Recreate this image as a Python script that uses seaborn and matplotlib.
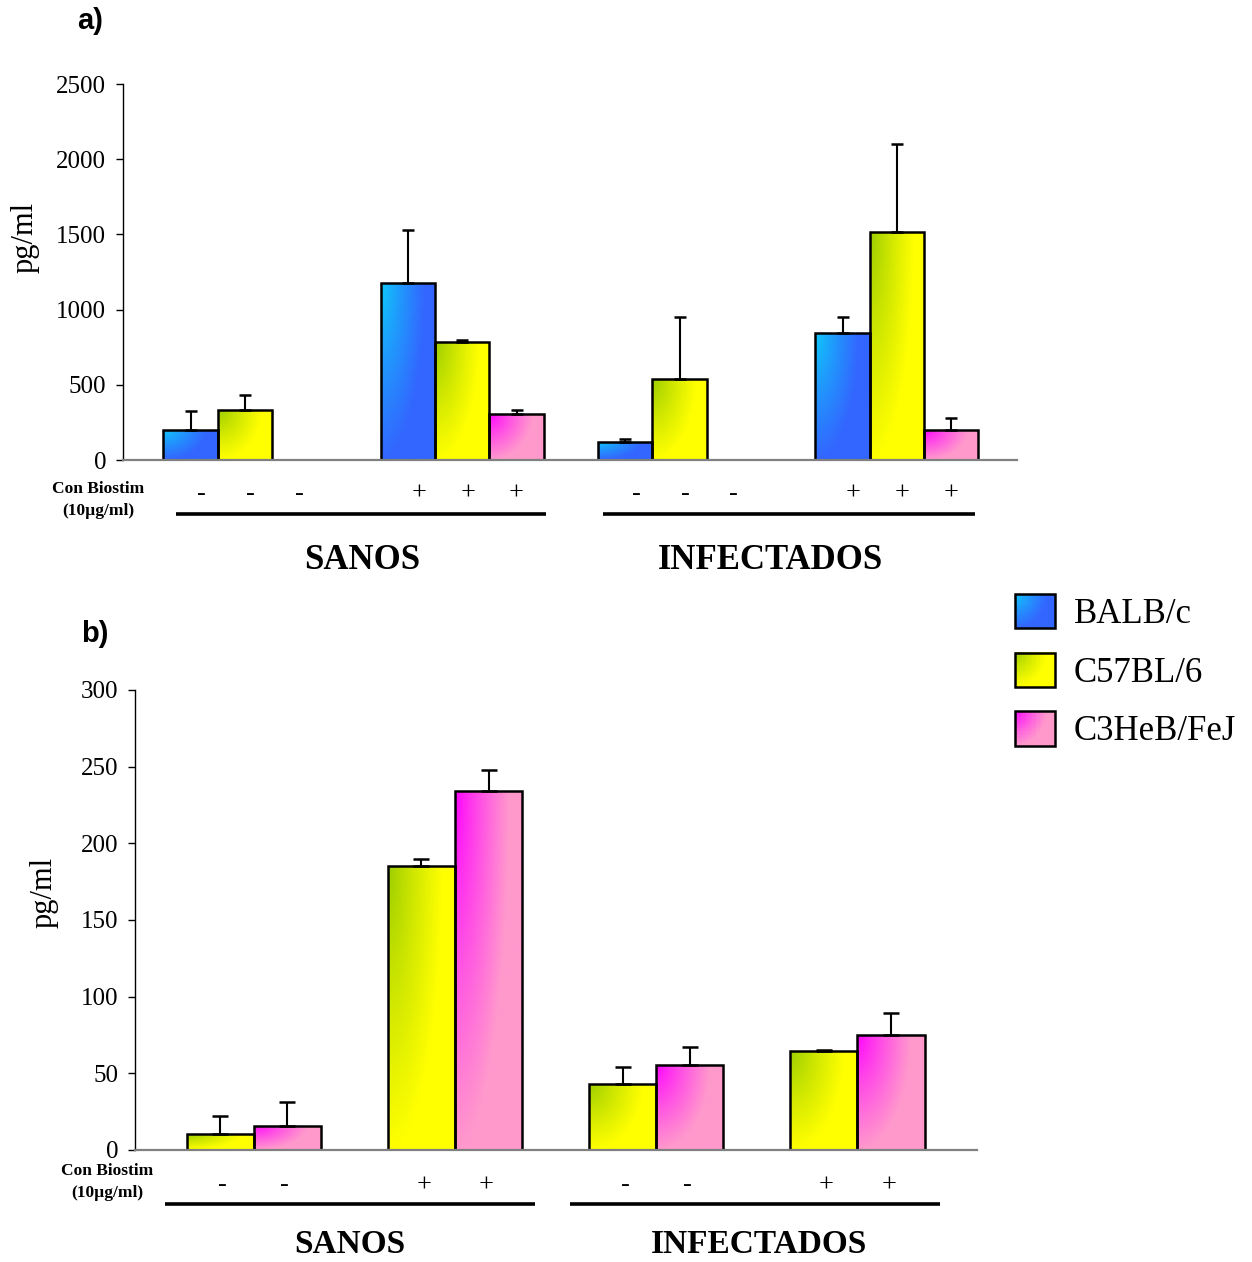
import numpy as np
import pandas as pd
import matplotlib
matplotlib.use("Agg")
import matplotlib.pyplot as plt
import seaborn as sns
import matplotlib.transforms as mtransforms
from matplotlib.patches import Rectangle, Patch
from matplotlib.legend_handler import HandlerBase

# ---------------- data ----------------
groups = ["SANOS -", "SANOS +", "INFECTADOS -", "INFECTADOS +"]
strains = ["BALB/c", "C57BL/6", "C3HeB/FeJ"]

balb_a = [200, 1180, 122, 843]
balb_a_err = [125, 352, 15, 105]
c57_a = [335, 782, 536, 1518]
c57_a_err = [94, 17, 413, 585]
c3h_a = [np.nan, 305, np.nan, 197]
c3h_a_err = [np.nan, 30, np.nan, 80]

c57_b = [10.4, 185.5, 43.3, 64.6]
c57_b_err = [12.0, 4.1, 10.7, 0.3]
c3h_b = [15.9, 234.2, 55.3, 75.1]
c3h_b_err = [15.7, 13.5, 12.0, 14.4]

signs_a = ["-", "-", "-", "+", "+", "+", "-", "-", "-", "+", "+", "+"]
signs_b = ["-", "-", "+", "+", "-", "-", "+", "+"]
treat_labels = ["SANOS", "INFECTADOS"]
yticks_a = [0, 500, 1000, 1500, 2000, 2500]
yticks_b = [0, 50, 100, 150, 200, 250, 300]

# ---------------- style ----------------
sns.set_style("ticks")
plt.rcParams["font.family"] = ["Liberation Serif", "DejaVu Serif"]
for key in ["text.color", "axes.labelcolor", "xtick.color", "ytick.color",
            "axes.edgecolor"]:
    plt.rcParams[key] = "black"

grad = {
    "BALB/c": (np.array([0.05, 0.80, 0.98]), np.array([0.20, 0.40, 1.00])),
    "C57BL/6": (np.array([0.60, 0.80, 0.00]), np.array([1.00, 1.00, 0.00])),
    "C3HeB/FeJ": (np.array([1.00, 0.00, 1.00]), np.array([1.00, 0.60, 0.80])),
}
mid = {k: tuple((a + b) / 2) for k, (a, b) in grad.items()}


def make_df(series):
    rows = []
    for strain, vals in series.items():
        for g, v in zip(groups, vals):
            if np.isfinite(v):
                rows.append({"grupo": g, "cepa": strain, "pg/ml": v})
    return pd.DataFrame(rows)


def grad_t(U, V):
    return np.clip(np.sqrt((U / 0.8) ** 2 + V ** 2), 0, 1) ** 0.85


def grad_fill(ax, patch, c0, c1):
    x0, y0 = patch.get_x(), patch.get_y()
    w, h = patch.get_width(), patch.get_height()
    if not np.isfinite(h) or h <= 0:
        return
    p0 = ax.transData.transform((x0, y0))
    p1 = ax.transData.transform((x0 + w, y0 + h))
    W = abs(p1[0] - p0[0])
    H = abs(p1[1] - p0[1])
    nx = max(int(W), 2)
    ny = max(int(H), 2)
    u = (np.arange(nx) + 0.5) / nx
    v = (np.arange(ny) + 0.5) / ny
    U, V = np.meshgrid(u, v)
    t = grad_t(U, V)
    img = c0 + (c1 - c0) * t[..., None]
    im = ax.imshow(img, extent=[x0, x0 + w, y0, y0 + h], origin="upper",
                   aspect="auto", zorder=patch.get_zorder() - 0.05,
                   interpolation="bilinear")
    im.set_clip_path(patch)
    patch.set_facecolor("none")


def draw_panel(ax, series, errs, width, xlim, ylim, yticks, capsize):
    df = make_df(series)
    order_h = list(series.keys())
    sns.barplot(data=df, x="grupo", y="pg/ml", hue="cepa", order=groups,
                hue_order=order_h, palette=mid, width=width, dodge=True,
                errorbar=None, edgecolor="black", linewidth=1.8, legend=False,
                ax=ax)
    ax.set_xlim(*xlim)
    ax.set_ylim(*ylim)
    for cont, strain in zip(ax.containers, order_h):
        xs, hs, es = [], [], []
        for p in cont.patches:
            h = p.get_height()
            if not np.isfinite(h) or h == 0:
                continue
            xc = p.get_x() + p.get_width() / 2
            gi = int(round(xc))
            xs.append(xc)
            hs.append(h)
            es.append(errs[strain][gi])
            grad_fill(ax, p, *grad[strain])
        es = np.array(es, dtype=float)
        ax.errorbar(xs, hs, yerr=[np.zeros_like(es), es], fmt="none",
                    ecolor="black", elinewidth=1.5, capsize=capsize,
                    capthick=1.8, zorder=3)
    ax.set_xlim(*xlim)
    ax.set_ylim(*ylim)
    ax.set_yticks(yticks)
    ax.set_xticks([])
    ax.set_xlabel("")
    ax.set_ylabel("pg/ml", fontsize=22)
    sns.despine(ax=ax)
    ax.spines["bottom"].set_color("#808080")
    ax.spines["bottom"].set_linewidth(1.6)
    ax.spines["left"].set_color("black")
    ax.spines["left"].set_linewidth(1.0)
    ax.tick_params(axis="y", direction="out", length=5, width=1.0,
                   labelsize=18, pad=7, colors="black")


fig = plt.figure(figsize=(12.52, 12.62), dpi=100)

# ---------------- panel a ----------------
axa = fig.add_axes([123 / 1252, 1 - 460 / 1262, 894 / 1252, 376 / 1262])
draw_panel(axa,
           {"BALB/c": balb_a, "C57BL/6": c57_a, "C3HeB/FeJ": c3h_a},
           {"BALB/c": balb_a_err, "C57BL/6": c57_a_err, "C3HeB/FeJ": c3h_a_err},
           0.75, (-0.561, 3.553), (0, 2500), yticks_a, 4.5)
axa.yaxis.set_label_coords(-0.093, 0.593)

tra = mtransforms.blended_transform_factory(axa.transData, axa.transAxes)
k = 0
for g in range(4):
    for off in (-0.225, 0.0, 0.225):
        axa.text(g + 0.025 + off, -0.090, signs_a[k], transform=tra,
                 ha="center", va="center", fontsize=19)
        k += 1
for (x0, x1), lab, xc in zip([(-0.318, 1.385), (1.648, 3.359)], treat_labels,
                             [0.538, 2.42]):
    axa.plot([x0, x1], [-0.1436, -0.1436], transform=tra, color="black",
             lw=2.6, clip_on=False, solid_capstyle="butt")
    axa.text(xc, -0.268, lab, transform=tra, ha="center", va="center",
             fontsize=25, fontweight="bold")

fig.text(98 / 1252, 1 - 489 / 1262, "Con Biostim", ha="center", va="center",
         fontsize=12.5, fontweight="bold")
fig.text(98 / 1252, 1 - 511 / 1262, "(10µg/ml)", ha="center", va="center",
         fontsize=12.5, fontweight="bold")
fig.text(77 / 1252, 1 - 21 / 1262, "a)", ha="left", va="center", fontsize=21,
         fontweight="bold", family=["Liberation Sans", "DejaVu Sans"])

# ---------------- panel b ----------------
axb = fig.add_axes([135 / 1252, 1 - 1150 / 1262, 842 / 1252, 460 / 1262])
draw_panel(axb,
           {"C57BL/6": c57_b, "C3HeB/FeJ": c3h_b},
           {"C57BL/6": c57_b_err, "C3HeB/FeJ": c3h_b_err},
           0.667, (-0.590, 3.594), (0, 300), yticks_b, 5.8)
axb.yaxis.set_label_coords(-0.091, 0.559)

trb = mtransforms.blended_transform_factory(axb.transData, axb.transAxes)
k = 0
for g in range(4):
    for off in (-0.155, 0.155):
        axb.text(g + off, -0.0765, signs_b[k], transform=trb,
                 ha="center", va="center", fontsize=19)
        k += 1
for (x0, x1), lab, xc in zip([(-0.443, 1.397), (1.571, 3.411)], treat_labels,
                             [0.477, 2.511]):
    axb.plot([x0, x1], [-0.1174, -0.1174], transform=trb, color="black",
             lw=2.6, clip_on=False, solid_capstyle="butt")
    axb.text(xc, -0.2245, lab, transform=trb, ha="center", va="baseline",
             fontsize=24, fontweight="bold")

fig.text(107 / 1252, 1 - 1171 / 1262, "Con Biostim", ha="center", va="center",
         fontsize=12.5, fontweight="bold")
fig.text(107 / 1252, 1 - 1193 / 1262, "(10µg/ml)", ha="center", va="center",
         fontsize=12.5, fontweight="bold")
fig.text(81 / 1252, 1 - 634 / 1262, "b)", ha="left", va="center", fontsize=21,
         fontweight="bold", family=["Liberation Sans", "DejaVu Sans"])


# ---------------- legend ----------------
class GradHandler(HandlerBase):
    def __init__(self, c0, c1):
        super().__init__()
        self.c0, self.c1 = c0, c1

    def create_artists(self, legend, orig_handle, xdescent, ydescent, width,
                       height, fontsize, trans):
        arts = []
        n = 16
        for i in range(n):
            for j in range(n):
                u = (i + 0.5) / n
                v = (j + 0.5) / n
                t = float(grad_t(np.array(u), np.array(v)))
                col = self.c0 + (self.c1 - self.c0) * t
                r = Rectangle((-xdescent + i * width / n,
                               -ydescent + height - (j + 1) * height / n),
                              width / n * 1.05, height / n * 1.05,
                              facecolor=col, edgecolor="none", lw=0,
                              transform=trans, antialiased=False)
                arts.append(r)
        arts.append(Rectangle((-xdescent, -ydescent), width, height,
                              facecolor="none", edgecolor="black", lw=1.8,
                              transform=trans))
        return arts


handles = [Patch(label=s) for s in strains]
hmap = {h: GradHandler(*grad[s]) for h, s in zip(handles, strains)}
fig.legend(handles=handles, handler_map=hmap, loc="upper left",
           bbox_to_anchor=(1015 / 1252, 1 - 594 / 1262), frameon=False,
           fontsize=25, handlelength=1.15, handleheight=1.15, labelspacing=0.62,
           handletextpad=0.55, borderpad=0, borderaxespad=0)

fig.savefig("out.png", dpi=100)
